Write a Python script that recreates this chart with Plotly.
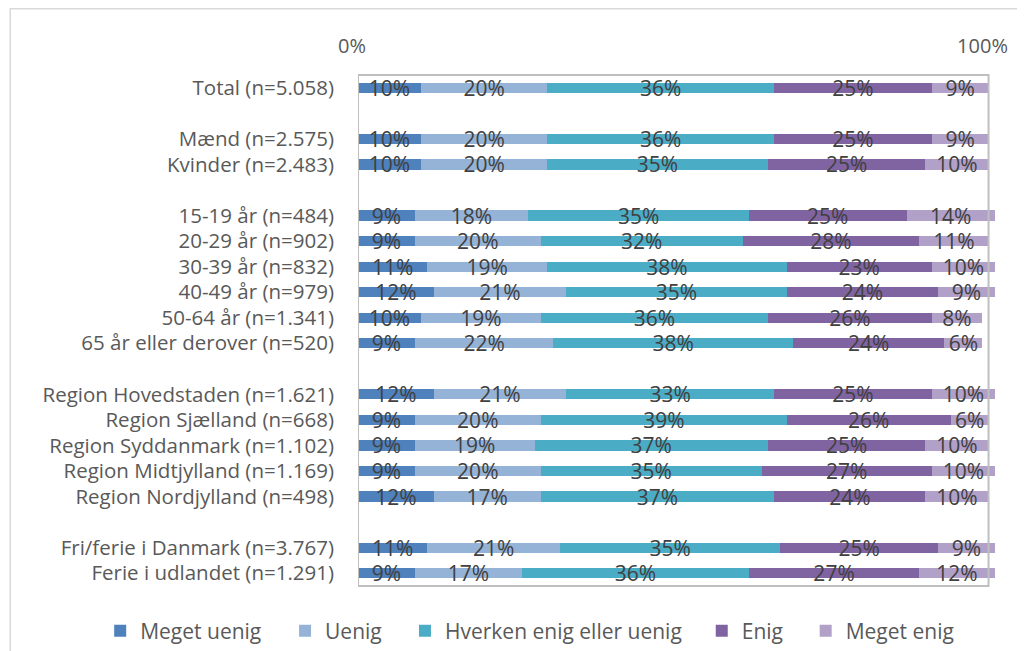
import plotly.graph_objects as go

categories = [
    "Total (n=5.058)", " ",
    "Mænd (n=2.575)", "Kvinder (n=2.483)", "  ",
    "15-19 år (n=484)", "20-29 år (n=902)", "30-39 år (n=832)",
    "40-49 år (n=979)", "50-64 år (n=1.341)", "65 år eller derover (n=520)", "   ",
    "Region Hovedstaden (n=1.621)", "Region Sjælland (n=668)",
    "Region Syddanmark (n=1.102)", "Region Midtjylland (n=1.169)",
    "Region Nordjylland (n=498)", "    ",
    "Fri/ferie i Danmark (n=3.767)", "Ferie i udlandet (n=1.291)",
]

series_names = ["Meget uenig", "Uenig", "Hverken enig eller uenig", "Enig", "Meget enig"]

meget_uenig = [10, None, 10, 10, None, 9, 9, 11, 12, 10, 9, None, 12, 9, 9, 9, 12, None, 11, 9]
uenig       = [20, None, 20, 20, None, 18, 20, 19, 21, 19, 22, None, 21, 20, 19, 20, 17, None, 21, 17]
hverken     = [36, None, 36, 35, None, 35, 32, 38, 35, 36, 38, None, 33, 39, 37, 35, 37, None, 35, 36]
enig        = [25, None, 25, 25, None, 25, 28, 23, 24, 26, 24, None, 25, 26, 25, 27, 24, None, 25, 27]
meget_enig  = [9, None, 9, 10, None, 14, 11, 10, 9, 8, 6, None, 10, 6, 10, 10, 10, None, 9, 12]

tick_vals = [0, 100]
tick_text = ["0%", "100%"]

colors = ["#4F81BD", "#95B3D7", "#4BACC6", "#8064A2", "#B1A0C7"]

# page body adds an 8px offset; figure coordinates = screen - 8
OFF = 8
W, H = 1025 - OFF, 651 - OFF
X_MAX = 101.5
L, T = 358 - OFF, 75 - OFF
plot_bottom = 586 - OFF
B = H - plot_bottom
px_per_pct = (989 - OFF - L) / 100.0
pw = px_per_pct * X_MAX
R = W - L - pw
ph = H - T - B

legend_marker_x = [121, 306, 426, 723, 827]   # screen px of legend swatch centres
legend_mid_y = 631 - OFF

legend_names = ["legend", "legend2", "legend3", "legend4", "legend5"]

fig = go.Figure()
for name, vals, col, lg in zip(series_names, [meget_uenig, uenig, hverken, enig, meget_enig],
                               colors, legend_names):
    fig.add_trace(go.Bar(
        y=categories, x=vals, name=name, orientation="h",
        marker=dict(color=col, line=dict(width=0)),
        width=0.4,
        texttemplate="%{x}%", textposition="inside", insidetextanchor="middle",
        textangle=0, constraintext="none",
        textfont=dict(family="Open Sans", size=21, color="#404040"),
        cliponaxis=False,
        hoverinfo="skip",
        legend=lg,
    ))

# plot-area frame from 0% to 100%
fig.add_shape(type="rect", xref="x", yref="paper", x0=0, x1=100, y0=0, y1=1,
              line=dict(color="#BFBFBF", width=2), layer="above")

# outer chart border (partially outside the visible area)
fig.add_shape(type="rect", xref="paper", yref="paper",
              x0=(10 - OFF - L) / pw, x1=(W + 50 - L) / pw,
              y0=-(H + 50 - plot_bottom) / ph, y1=(plot_bottom - 0.8) / ph,
              line=dict(color="#D9D9D9", width=1.5), layer="below")

legend_layout = {}
for lg, mx in zip(legend_names, legend_marker_x):
    legend_layout[lg] = dict(
        orientation="h", xref="paper", yref="paper",
        x=(mx - 21 - OFF - L) / pw, xanchor="left",
        y=-(legend_mid_y - plot_bottom) / ph, yanchor="middle",
        font=dict(family="Open Sans", size=21, color="#595959"),
        itemwidth=30, bgcolor="rgba(0,0,0,0)",
    )

fig.update_layout(
    width=W, height=H,
    margin=dict(l=L, r=R, t=T, b=B, pad=0, autoexpand=False),
    barmode="stack",
    paper_bgcolor="white", plot_bgcolor="white",
    font=dict(family="Open Sans", size=20, color="#595959"),
    showlegend=True,
    **legend_layout,
)
fig.update_xaxes(range=[0, X_MAX], side="top", tickmode="array", tickvals=tick_vals, ticktext=tick_text,
                 showgrid=False, zeroline=False, showline=False, ticks="",
                 automargin=False,
                 ticklabelstandoff=17, ticklabelshift=-6,
                 tickfont=dict(family="Open Sans", size=20, color="#595959"))
fig.update_yaxes(categoryorder="array", categoryarray=categories, autorange="reversed",
                 tickmode="array", tickvals=categories, ticktext=categories,
                 showgrid=False, zeroline=False, showline=False, ticks="",
                 automargin=False,
                 ticklabelstandoff=23,
                 tickfont=dict(family="Open Sans", size=20.5, color="#595959"))

fig.write_html("out.html")
